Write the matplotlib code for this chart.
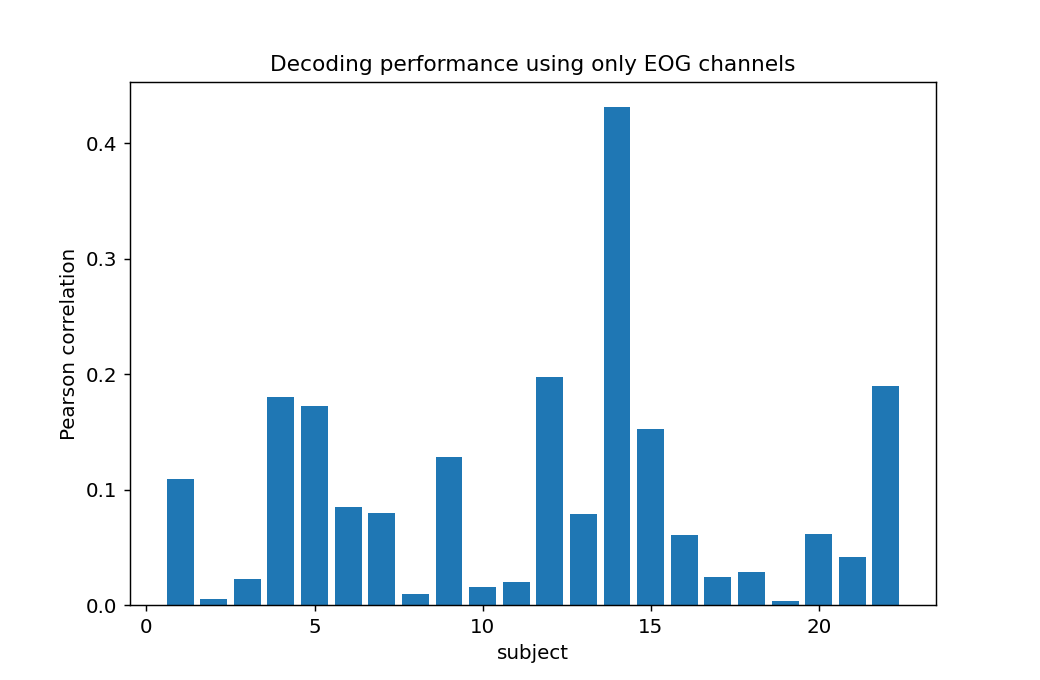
import matplotlib
matplotlib.use("Agg")
import matplotlib.pyplot as plt

subjects = list(range(1, 23))
correlations = [0.109, 0.005, 0.023, 0.180, 0.173, 0.085, 0.080, 0.010,
                0.128, 0.016, 0.020, 0.198, 0.079, 0.432, 0.153, 0.061,
                0.024, 0.029, 0.004, 0.062, 0.042, 0.190]

plt.rcParams['font.size'] = 11

fig, ax = plt.subplots(figsize=(8, 680 / 130), dpi=130)
ax.bar(subjects, correlations)
ax.set_xlabel('subject')
ax.set_ylabel('Pearson correlation')
ax.set_title('Decoding performance using only EOG channels', fontsize=12)

fig.savefig('out.png', dpi=130)
